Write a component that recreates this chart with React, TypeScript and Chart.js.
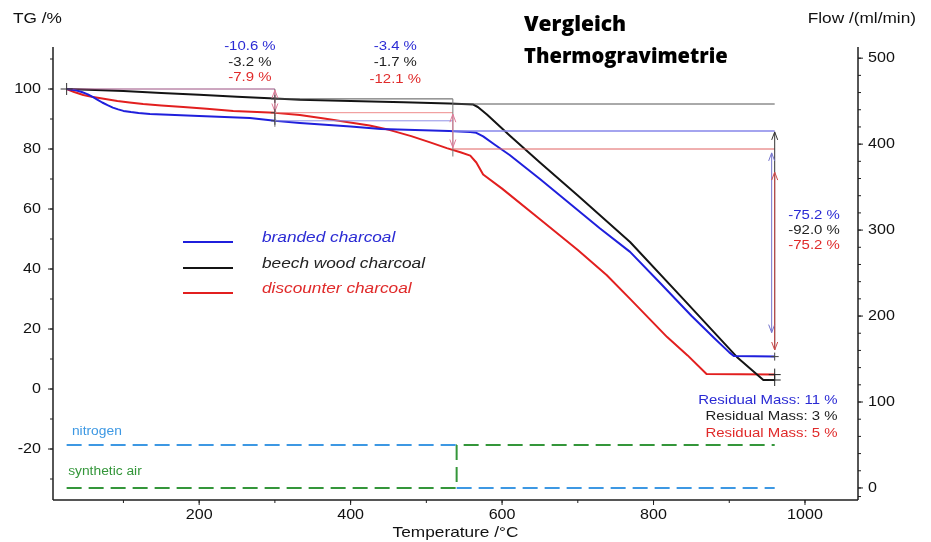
import React, { useEffect, useRef } from "react";
import { Chart, registerables } from "chart.js";

Chart.register(...registerables);

// ---------- data ----------
const brandedT = [25, 35, 45, 53, 60, 66, 72, 79, 86, 93, 100, 110, 120, 135, 160, 200, 267, 285, 300, 333, 400, 440, 530, 558, 566, 575, 590, 610, 650, 729, 769, 810, 850, 880, 900, 906, 960];
const brandedTG = [100, 99.7, 99.0, 98.2, 97.3, 96.4, 95.5, 94.6, 93.8, 93.2, 92.7, 92.3, 92.0, 91.7, 91.4, 91.0, 90.3, 89.8, 89.4, 88.7, 87.5, 86.7, 86.0, 85.7, 85.4, 84.2, 81.5, 78.0, 70.0, 53.6, 45.7, 35.0, 24.4, 17.0, 12.2, 11.0, 10.8];

const beechT = [25, 100, 150, 200, 250, 300, 333, 400, 470, 530, 555, 562, 568, 580, 610, 650, 700, 769, 840, 910, 945, 960];
const beechTG = [100, 99.3, 98.7, 98.1, 97.4, 96.8, 96.4, 96.0, 95.6, 95.2, 94.9, 94.8, 94.0, 91.5, 84.5, 75.5, 64.5, 49.0, 29.8, 10.7, 3.0, 3.0];

const discounterT = [25, 35, 47, 58, 70, 82, 92, 108, 126, 150, 179, 210, 245, 300, 333, 365, 395, 425, 452, 480, 505, 527, 545, 558, 566, 575, 600, 650, 700, 738, 770, 818, 845, 870, 960];
const discounterTG = [100, 99.0, 98.0, 97.4, 96.9, 96.4, 96.0, 95.5, 95.0, 94.5, 94.0, 93.4, 92.7, 92.1, 91.3, 90.2, 89.0, 87.8, 86.3, 84.3, 82.2, 80.3, 78.9, 77.8, 75.5, 71.5, 66.8, 56.6, 46.3, 38.0, 29.8, 17.3, 11.2, 5.0, 4.8];

// gas flow (ml/min) segments
const flowT = [25, 540, 960];
const nitrogenFlow = [50, 50, 0];
const airFlow = [0, 0, 50];

// step evaluation
const stepT = [25, 300, 535, 960];
const brandedLevels = [100, 89.4, 86.0, 10.8];
const beechLevels = [100, 96.7, 95.0, 3.0];
const discounterLevels = [100, 92.1, 80.0, 4.8];
const brandedSteps = ["-10.6 %", "-3.4 %", "-75.2 %"];
const beechSteps = ["-3.2 %", "-1.7 %", "-92.0 %"];
const discounterSteps = ["-7.9 %", "-12.1 %", "-75.2 %"];
const residualMass = ["Residual Mass: 11 %", "Residual Mass: 3 %", "Residual Mass: 5 %"];

const seriesNames = ["branded charcoal", "beech wood charcoal", "discounter charcoal"];

// axis ticks
const xMajor = [200, 400, 600, 800, 1000];
const xMinor = [100, 200, 300, 400, 500, 600, 700, 800, 900, 1000];
const yMajor = [-20, 0, 20, 40, 60, 80, 100];
const yMinor = [-30, -20, -10, 0, 10, 20, 30, 40, 50, 60, 70, 80, 90, 100, 110];
const y2Major = [0, 100, 200, 300, 400, 500];
const y2Minor = [-10, 0, 20, 40, 60, 80, 100, 120, 140, 160, 180, 200, 220, 240, 260, 280, 300, 320, 340, 360, 380, 400, 420, 440, 460, 480, 500];

// ---------- styles ----------
const BLUE = "#1f1fdc";
const BLACK = "#141414";
const RED = "#e21f1f";
const TXT_BLUE = "#2a2ad4";
const TXT_RED = "#e02a2a";
const N2_BLUE = "#3d98e3";
const AIR_GREEN = "#34963a";
const AX = "#1e1e1e";
const FONT = '"Liberation Sans", Arial, Helvetica, sans-serif';
const SX = 1.15;

function pts(xs: number[], ys: number[]) {
  return xs.map((x, i) => ({ x, y: ys[i] }));
}

function txt(ctx: CanvasRenderingContext2D, s: string, x: number, y: number, font: string, color: string, align: CanvasTextAlign = "left", sx = SX) {
  ctx.save();
  ctx.font = font;
  ctx.fillStyle = color;
  ctx.textBaseline = "middle";
  ctx.textAlign = align;
  ctx.translate(x, y);
  ctx.scale(sx, 1);
  ctx.fillText(s, 0, 0);
  ctx.restore();
}

function line(ctx: CanvasRenderingContext2D, x1: number, y1: number, x2: number, y2: number, color: string, w = 1) {
  ctx.save();
  ctx.strokeStyle = color;
  ctx.lineWidth = w;
  ctx.beginPath();
  ctx.moveTo(x1, y1);
  ctx.lineTo(x2, y2);
  ctx.stroke();
  ctx.restore();
}

function vArrow(ctx: CanvasRenderingContext2D, x: number, yTop: number, yBot: number, color: string, top = true, bot = true) {
  line(ctx, x, yTop, x, yBot, color, 1);
  ctx.save();
  ctx.strokeStyle = color;
  ctx.lineWidth = 1;
  ctx.beginPath();
  if (top) {
    ctx.moveTo(x - 3, yTop + 8);
    ctx.lineTo(x, yTop);
    ctx.lineTo(x + 3, yTop + 8);
  }
  if (bot) {
    ctx.moveTo(x - 3, yBot - 8);
    ctx.lineTo(x, yBot);
    ctx.lineTo(x + 3, yBot - 8);
  }
  ctx.stroke();
  ctx.restore();
}

function cross(ctx: CanvasRenderingContext2D, x: number, y: number, color = "#222", s = 6) {
  line(ctx, x - s, y, x + s, y, color, 1);
  line(ctx, x, y - s, x, y + s, color, 1);
}

const overlay = {
  id: "overlay",
  afterDatasetsDraw(chart: any) {
    const ctx: CanvasRenderingContext2D = chart.ctx;
    const xs = chart.scales.x;
    const ys = chart.scales.y;
    const y2 = chart.scales.y2;
    const ca = chart.chartArea;
    const X = (v: number) => xs.getPixelForValue(v);
    const Y = (v: number) => ys.getPixelForValue(v);
    const Y2 = (v: number) => y2.getPixelForValue(v);

    // ---- step evaluation annotations ----
    const [t0, t1, t2, t3] = stepT;
    line(ctx, X(t0), Y(100), X(t1), Y(100), "#9a4f80", 1);
    cross(ctx, X(t0), Y(100), "#333");
    // at t1
    line(ctx, X(t1), Y(100), X(t1), Y(brandedLevels[1] - 2), "#666", 1);
    vArrow(ctx, X(t1), Y(99.6), Y(discounterLevels[1] + 0.4), "#e07a98");
    cross(ctx, X(t1), Y(beechLevels[1]), "#444", 4);
    cross(ctx, X(t1), Y(discounterLevels[1]), "#444", 4);
    cross(ctx, X(t1), Y(brandedLevels[1]), "#444", 4);
    // t1 -> t2
    line(ctx, X(t1), Y(beechLevels[1]), X(t2), Y(beechLevels[1]), "#555", 1);
    line(ctx, X(t1), Y(discounterLevels[1]), X(t2), Y(discounterLevels[1]), "#ee8c8c", 1);
    line(ctx, X(t1), Y(brandedLevels[1]), X(t2), Y(brandedLevels[1]), "#9090e6", 1);
    line(ctx, X(t2), Y(beechLevels[1]), X(t2), Y(discounterLevels[2] - 2.5), "#777", 1);
    vArrow(ctx, X(t2), Y(discounterLevels[1] - 0.5), Y(discounterLevels[2] + 0.5), "#e07a98");
    // t2 -> t3
    line(ctx, X(t2), Y(beechLevels[2]), X(t3), Y(beechLevels[2]), "#555", 1);
    line(ctx, X(t2), Y(brandedLevels[2]), X(t3), Y(brandedLevels[2]), "#8686ea", 1.4);
    line(ctx, X(t2), Y(discounterLevels[2]), X(t3), Y(discounterLevels[2]), "#e06060", 1);
    // final arrows
    vArrow(ctx, X(t3), Y(brandedLevels[2] - 0.3), Y(13), "#333", true, false);
    vArrow(ctx, X(t3 - 4), Y(discounterLevels[2] - 1.3), Y(brandedLevels[3] + 8), "#7474cc");
    vArrow(ctx, X(t3), Y(discounterLevels[2] - 7.7), Y(brandedLevels[3] + 2.2), "#cc4a4a");
    cross(ctx, X(t3), Y(brandedLevels[3]), "#444", 4);
    cross(ctx, X(t3), Y(discounterLevels[3]), "#222", 6);
    cross(ctx, X(t3), Y(beechLevels[3]), "#222", 6);

    // step texts
    const f14 = `13px ${FONT}`;
    const c1 = X(267), c2 = X(459);
    txt(ctx, brandedSteps[0], c1, Y(114.3), f14, TXT_BLUE, "center");
    txt(ctx, beechSteps[0], c1, Y(109), f14, "#222", "center");
    txt(ctx, discounterSteps[0], c1, Y(104), f14, TXT_RED, "center");
    txt(ctx, brandedSteps[1], c2, Y(114.3), f14, TXT_BLUE, "center");
    txt(ctx, beechSteps[1], c2, Y(109), f14, "#222", "center");
    txt(ctx, discounterSteps[1], c2, Y(103.3), f14, TXT_RED, "center");
    const r3 = X(1046);
    txt(ctx, brandedSteps[2], r3, Y(57.7), f14, TXT_BLUE, "right");
    txt(ctx, beechSteps[2], r3, Y(52.7), f14, "#222", "right");
    txt(ctx, discounterSteps[2], r3, Y(47.7), f14, TXT_RED, "right");
    const rr = X(1043);
    txt(ctx, residualMass[0], rr, Y(-3.7), f14, TXT_BLUE, "right");
    txt(ctx, residualMass[1], rr, Y(-9), f14, "#222", "right");
    txt(ctx, residualMass[2], rr, Y(-14.7), f14, TXT_RED, "right");

    // gas labels
    txt(ctx, "nitrogen", X(32), Y2(66), `12px ${FONT}`, N2_BLUE, "left");
    txt(ctx, "synthetic air", X(27), Y2(18.6), `12px ${FONT}`, AIR_GREEN, "left");

    // legend
    const legColors = [BLUE, BLACK, RED];
    const legTxt = [TXT_BLUE, "#222", TXT_RED];
    const legY = [242, 268, 293];
    seriesNames.forEach((n, i) => {
      line(ctx, 183, legY[i], 233, legY[i], legColors[i], 2);
      txt(ctx, n, 262, legY[i] - 4, `italic 15px ${FONT}`, legTxt[i], "left");
    });

    // title
    txt(ctx, "Vergleich", 524, 25, `800 21px "Open Sans", sans-serif`, "#000", "left", 1);
    txt(ctx, "Thermogravimetrie", 524, 57, `800 21px "Open Sans", sans-serif`, "#000", "left", 0.96);

    // ---- axes ----
    line(ctx, ca.left, ca.top, ca.left, ca.bottom, AX, 1.5);
    line(ctx, ca.right, ca.top, ca.right, ca.bottom, AX, 1.5);
    line(ctx, ca.left, ca.bottom, ca.right, ca.bottom, AX, 1.5);
    const tf = `14px ${FONT}`;
    yMinor.forEach((v) => line(ctx, ca.left - 3, Y(v), ca.left, Y(v), AX, 1));
    yMajor.forEach((v) => {
      line(ctx, ca.left - 5, Y(v), ca.left, Y(v), AX, 1);
      txt(ctx, String(v), ca.left - 12, Y(v), tf, "#111", "right");
    });
    y2Minor.forEach((v) => line(ctx, ca.right, Y2(v), ca.right + 3, Y2(v), AX, 1));
    y2Major.forEach((v) => {
      line(ctx, ca.right, Y2(v), ca.right + 5, Y2(v), AX, 1);
      txt(ctx, String(v), ca.right + 10, Y2(v), tf, "#111", "left");
    });
    xMinor.forEach((v) => line(ctx, X(v), ca.bottom, X(v), ca.bottom + 3, AX, 1));
    xMajor.forEach((v) => {
      line(ctx, X(v), ca.bottom, X(v), ca.bottom + 5, AX, 1);
      txt(ctx, String(v), X(v), ca.bottom + 15, tf, "#111", "center");
    });
    const af = `15px ${FONT}`;
    txt(ctx, "TG /%", 13, 19, af, "#111", "left");
    txt(ctx, "Flow /(ml/min)", 916, 19, af, "#111", "right");
    txt(ctx, "Temperature /°C", (ca.left + ca.right) / 2, 533, af, "#111", "center");
  },
};

export default function App() {
  const ref = useRef<HTMLCanvasElement | null>(null);
  useEffect(() => {
    if (!ref.current) return;
    const nitrogen = [
      { x: flowT[0], y: nitrogenFlow[0] },
      { x: flowT[1], y: nitrogenFlow[1] },
      { x: flowT[1], y: null },
      { x: flowT[1], y: nitrogenFlow[2] },
      { x: flowT[2], y: nitrogenFlow[2] },
    ];
    const air = [
      { x: flowT[0], y: airFlow[0] },
      { x: flowT[1], y: airFlow[1] },
      { x: flowT[1], y: airFlow[2] },
      { x: flowT[2], y: airFlow[2] },
    ];
    const chart = new Chart(ref.current, {
      type: "line",
      data: {
        datasets: [
          { label: seriesNames[0], data: pts(brandedT, brandedTG), borderColor: BLUE, borderWidth: 2, yAxisID: "y", tension: 0 },
          { label: seriesNames[1], data: pts(beechT, beechTG), borderColor: BLACK, borderWidth: 2, yAxisID: "y", tension: 0 },
          { label: seriesNames[2], data: pts(discounterT, discounterTG), borderColor: RED, borderWidth: 2, yAxisID: "y", tension: 0 },
          { label: "nitrogen", data: nitrogen as any, borderColor: N2_BLUE, borderWidth: 2, borderDash: [15, 7], yAxisID: "y2", spanGaps: false },
          { label: "synthetic air", data: air, borderColor: AIR_GREEN, borderWidth: 2, borderDash: [15, 7], yAxisID: "y2" },
        ],
      },
      options: {
        animation: false,
        responsive: false,
        devicePixelRatio: 1,
        layout: { padding: { top: 47, left: 0, right: 0, bottom: 0 } },
        plugins: { legend: { display: false }, tooltip: { enabled: false } },
        elements: { point: { radius: 0 }, line: { borderJoinStyle: "round" } },
        scales: {
          x: {
            type: "linear", min: 7, max: 1070,
            ticks: { display: false }, grid: { display: false }, border: { display: false },
            afterFit: (s: any) => { s.height = 42; },
          },
          y: {
            type: "linear", position: "left", min: -37, max: 114,
            ticks: { display: false }, grid: { display: false }, border: { display: false },
            afterFit: (s: any) => { s.width = 53; },
          },
          y2: {
            type: "linear", position: "right", min: -14, max: 513,
            ticks: { display: false }, grid: { display: false }, border: { display: false },
            afterFit: (s: any) => { s.width = 73; },
          },
        },
      },
      plugins: [overlay],
    });
    return () => chart.destroy();
  }, []);
  return (
    <div style={{ position: "fixed", left: 0, top: 0, width: 931, height: 542, background: "#fff" }}>
      <canvas ref={ref} width={931} height={542} />
    </div>
  );
}
